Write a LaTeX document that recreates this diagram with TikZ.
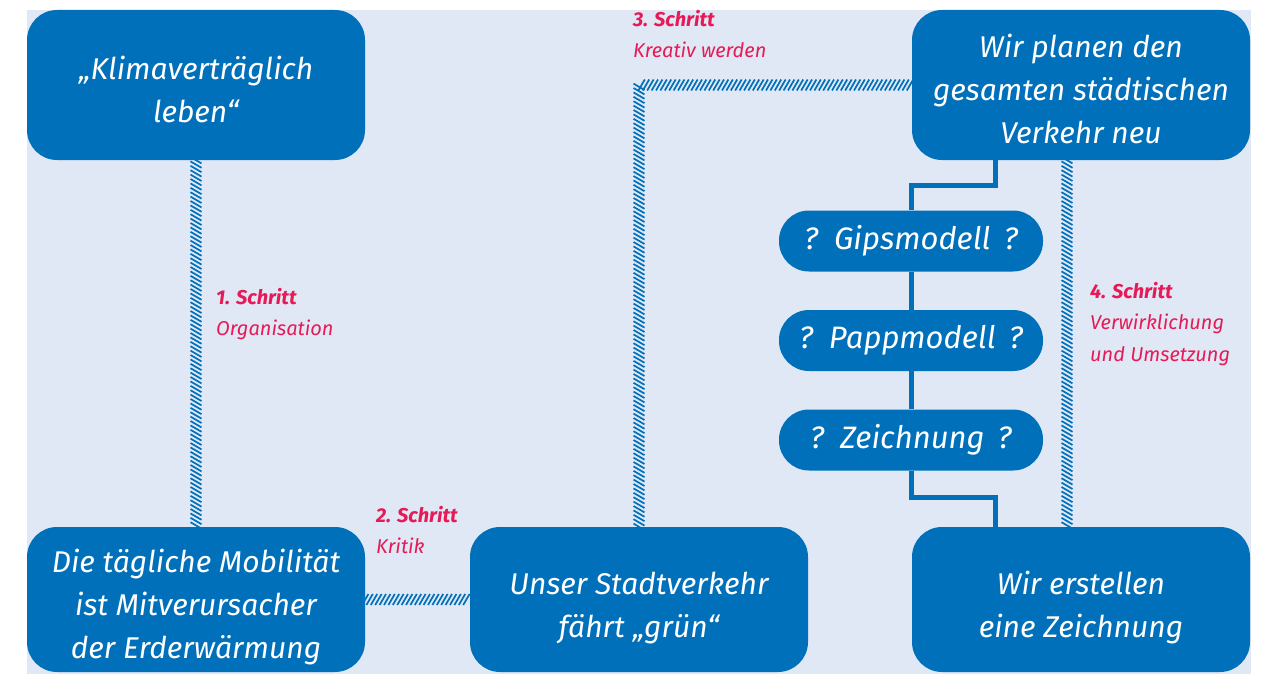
\documentclass[tikz,border=0pt]{standalone}
\usepackage{fontspec}
\setmainfont{Fira Sans}
\usetikzlibrary{decorations.markings,calc}
\definecolor{boxblue}{RGB}{0,112,186}
\definecolor{bgblue}{RGB}{225,232,245}
\definecolor{labred}{RGB}{230,26,86}
\tikzset{
  bigbox/.style={fill=boxblue, rounded corners=30pt, minimum width=338pt, inner sep=0pt},
  boxtext/.style={text=white, align=center, inner sep=0pt, font=\itshape\fontsize{30}{43}\selectfont},
  pill/.style={fill=boxblue, rounded corners=30pt, minimum width=264pt, minimum height=61pt, text=white, inner sep=0pt,
    font=\itshape\fontsize{31}{36}\selectfont},
  steplabel/.style={anchor=north west, text=labred, align=left, inner sep=0pt,
    font=\itshape\fontsize{20}{31.5}\selectfont},
  hatch/.style={decorate, decoration={markings,
    mark=between positions 0 and 1 step 4.4pt with {\draw[boxblue,line width=1.7pt] (-3.2pt,-5.5pt) -- (3.2pt,5.5pt);}}},
  solidconn/.style={draw=boxblue, line width=5pt}
}
\begin{document}
\begin{tikzpicture}[x=1pt,y=-1pt]
\useasboundingbox (0,0) rectangle (1263,674);
\fill[bgblue] (27,10) rectangle (1251,674);
% boxes
\node[bigbox, minimum height=150pt, label={[boxtext,yshift=-4pt]center:{„Klimaverträglich\\leben“}}] (A) at (196,85) {};
\node[bigbox, minimum height=145pt, label={[boxtext,yshift=-8pt]center:{Die tägliche Mobilität\\ist Mitverursacher\\der Erderwärmung}}] (B) at (196,599.5) {};
\node[bigbox, minimum height=145pt, label={[boxtext,yshift=-8pt]center:{Unser Stadtverkehr\\fährt „grün“}}] (C) at (639,599.5) {};
\node[bigbox, minimum height=150pt, label={[boxtext,yshift=-4pt]center:{Wir planen den\\gesamten städtischen\\Verkehr neu}}] (D) at (1081,85) {};
\node[bigbox, minimum height=145pt, label={[boxtext,yshift=-8pt]center:{Wir erstellen\\eine Zeichnung}}] (E) at (1081,599.5) {};
% pills
\node[pill] (G) at (911,241) {?\, Gipsmodell\, ?};
\node[pill] (P) at (911,340.5) {?\, Pappmodell\, ?};
\node[pill] (Z) at (911,440) {?\, Zeichnung\, ?};
% hatched connectors
\path[hatch] (A.south) -- (B.north);
\path[hatch] (B.east) -- (C.west);
\path[hatch] (C.north) |- (D.west);
\path[hatch] ([xshift=-14pt]D.south) -- ([xshift=-14pt]E.north);
% solid connectors
\draw[solidconn] ([xshift=-86pt]D.south) -- ++(0,25) -| (G.north);
\draw[solidconn] (G.south) -- (P.north);
\draw[solidconn] (P.south) -- (Z.north);
\draw[solidconn] (Z.south) -- ++(0,27) -| ([xshift=-86pt]E.north);
% step labels
\node[steplabel] (L1) at (216,288) {\textbf{1. Schritt}\\Organisation};
\node[steplabel] (L2) at (376,506) {\textbf{2. Schritt}\\Kritik};
\node[steplabel] (L3) at (633,10) {\textbf{3. Schritt}\\Kreativ werden};
\node[steplabel] (L4) at (1090,282) {\textbf{4. Schritt}\\Verwirklichung\\und Umsetzung};
\end{tikzpicture}
\end{document}
